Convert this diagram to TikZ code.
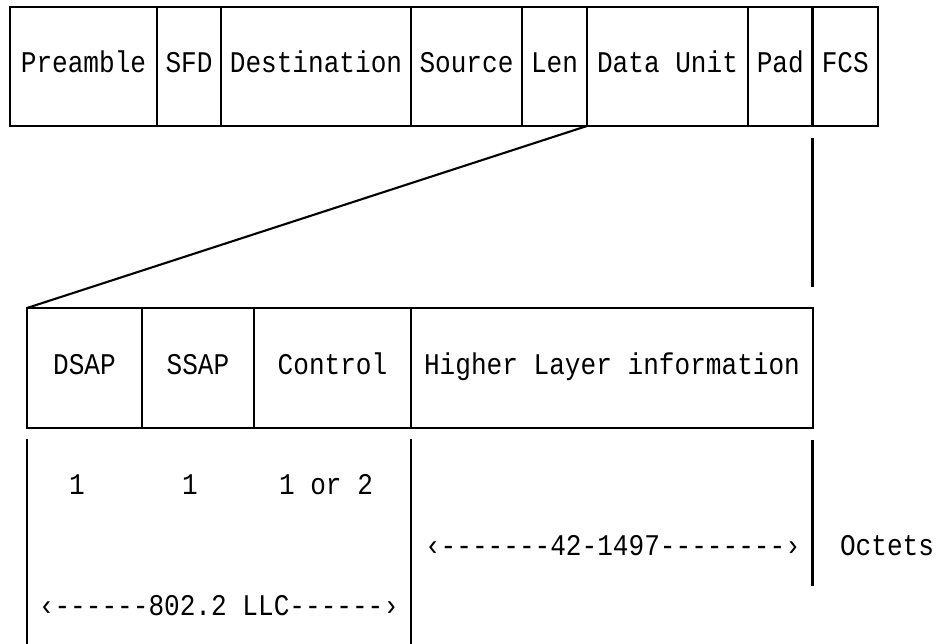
\documentclass[tikz,border=0pt]{standalone}
\usepackage{fontspec}
\usepackage{graphicx}
\newfontfamily\plotfont{Liberation Mono}
\newcommand{\plotsize}{\plotfont\fontsize{26.1}{30}\selectfont}
\newcommand{\tallt}[1]{\scalebox{1}[1.15]{#1}}
\begin{document}
\begin{tikzpicture}[x=1pt,y=-1pt,
  field/.style={draw, line width=2.1pt, inner sep=0pt, outer sep=0pt, font=\plotsize, text height=18pt, text depth=5pt},
  topfield/.style={field, minimum height=119pt},
  botfield/.style={field, minimum height=120pt},
  lbl/.style={inner sep=0pt, anchor=base, font=\plotsize},
  rule/.style={line width=2.1pt}]
\useasboundingbox (0,0) rectangle (939,644);
% top frame
\node[topfield, minimum width=147pt]   (pre)  at (83.5,66.5)   {\tallt{Preamble}};
\node[topfield, minimum width=64pt]    (sfd)  at (189,66.5)    {\tallt{SFD}};
\node[topfield, minimum width=190pt]   (dst)  at (316,66.5)    {\tallt{Destination}};
\node[topfield, minimum width=111pt]   (src)  at (466.5,66.5)  {\tallt{Source}};
\node[topfield, minimum width=65pt]    (len)  at (554.5,66.5)  {\tallt{Len}};
\node[topfield, minimum width=161pt]   (du)   at (667.5,66.5)  {\tallt{Data Unit}};
\node[topfield, minimum width=64.5pt]  (pad)  at (780.25,66.5) {\tallt{Pad}};
\node[topfield, minimum width=65.5pt]  (fcs)  at (845.25,66.5) {\tallt{FCS}};
% bottom frame
\node[botfield, minimum width=115pt]   (dsap) at (84.5,368)    {\tallt{DSAP}};
\node[botfield, minimum width=112pt]   (ssap) at (198,368)     {\tallt{SSAP}};
\node[botfield, minimum width=157pt]   (ctl)  at (332.5,368)   {\tallt{Control}};
\node[botfield, minimum width=402pt]   (hli)  at (612,368)     {\tallt{Higher Layer information}};
% expansion lines
\draw[rule] (du.south west) -- (dsap.north west);
\coordinate (fa) at (812.5,138);
\coordinate (fb) at (812.5,287);
\draw[rule] (fa) -- (fb);
% size rulers
\coordinate (r1a) at (27,439);   \coordinate (r1b) at (27,644);
\coordinate (r2a) at (411,439);  \coordinate (r2b) at (411,644);
\coordinate (r3a) at (812.5,440); \coordinate (r3b) at (812.5,586);
\draw[rule] (r1a) -- (r1b);
\draw[rule] (r2a) -- (r2b);
\draw[rule] (r3a) -- (r3b);
% labels
\node[lbl] (n1) at (77,494)  {\tallt{1}};
\node[lbl] (n2) at (190,494) {\tallt{1}};
\node[lbl] (n3) at (326,494) {\tallt{1 or 2}};
\node[lbl] (llc) at (219,615) {\tallt{‹------802.2 LLC------›}};
\node[lbl] (hsz) at (613,555) {\tallt{‹-------42-1497--------›}};
\node[lbl] (oct) at (887,555) {\tallt{Octets}};
\end{tikzpicture}
\end{document}
